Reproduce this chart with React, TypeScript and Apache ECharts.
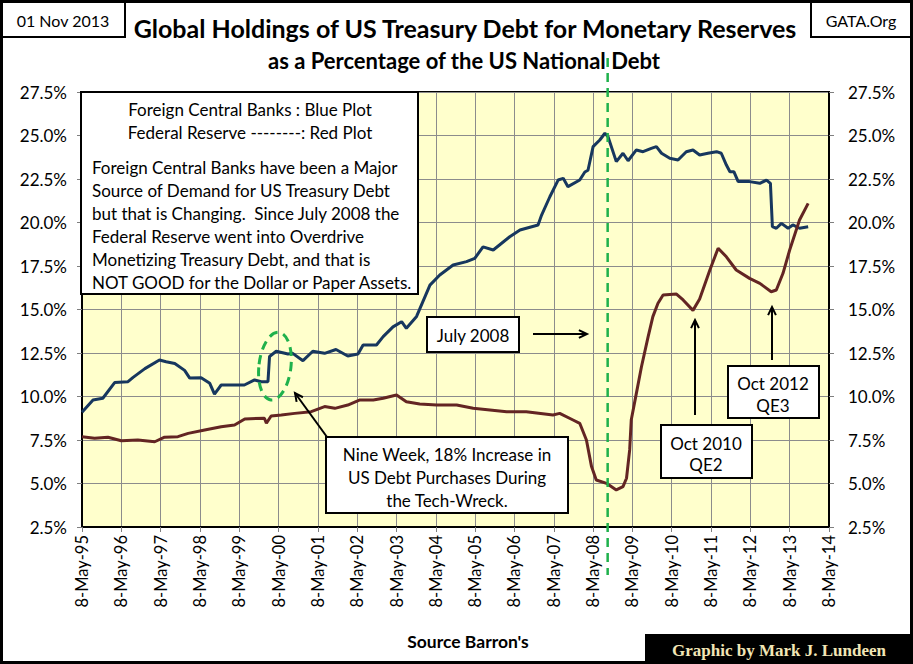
import { useEffect, useRef } from "react";
import * as echarts from "echarts";

const FONT = "Lato, 'Open Sans', sans-serif";
const INK = "#000000";
const BLUE = "#17375e";
const RED = "#632523";
const GREEN = "#1fb14c";
const PLOT_BG = "#ffffcc";
const GRID_LINE = "#8c8c8c";

// x positions are decimal years; ticks fall on 8 May of each year
const BASE_YEAR = 1995.35;
const X_TICK_LABELS = [
  "8-May-95", "8-May-96", "8-May-97", "8-May-98", "8-May-99", "8-May-00", "8-May-01",
  "8-May-02", "8-May-03", "8-May-04", "8-May-05", "8-May-06", "8-May-07", "8-May-08",
  "8-May-09", "8-May-10", "8-May-11", "8-May-12", "8-May-13", "8-May-14",
];

// Foreign central banks (blue plot)
const BLUE_YEARS = [
  1995.35, 1995.63, 1995.88, 1996.18, 1996.52, 1996.65, 1996.95, 1997.32, 1997.49, 1997.71,
  1997.96, 1998.09, 1998.38, 1998.6, 1998.72, 1998.89, 1999.23, 1999.48, 1999.74, 1999.91,
  2000.08, 2000.12, 2000.29, 2000.59, 2000.71, 2000.97, 2001.22, 2001.52, 2001.81, 2002.11,
  2002.37, 2002.5, 2002.84, 2003.01, 2003.26, 2003.48, 2003.6, 2003.86, 2004.2, 2004.45,
  2004.79, 2005.13, 2005.34, 2005.55, 2005.81, 2006.23, 2006.49, 2006.95, 2007.04, 2007.25,
  2007.46, 2007.59, 2007.71, 2008.01, 2008.14, 2008.22, 2008.35, 2008.52, 2008.65, 2008.73,
  2008.94, 2009.11, 2009.24, 2009.45, 2009.62, 2009.83, 2009.96, 2010.09, 2010.3, 2010.51,
  2010.72, 2010.89, 2011.06, 2011.27, 2011.49, 2011.61, 2011.74, 2011.83, 2011.93, 2012.04,
  2012.33, 2012.59, 2012.76, 2012.86, 2012.91, 2013.01, 2013.14, 2013.31, 2013.43, 2013.6,
  2013.82,
];
const BLUE_PCT = [
  9.1, 9.8, 9.9, 10.8, 10.85, 11.1, 11.6, 12.1, 12.0, 11.9,
  11.5, 11.06, 11.08, 10.76, 10.14, 10.66, 10.66, 10.66, 10.95, 10.85,
  10.85, 12.3, 12.6, 12.44, 12.48, 12.06, 12.6, 12.48, 12.7, 12.33,
  12.44, 12.96, 12.96, 13.44, 14.0, 14.3, 13.92, 14.6, 16.4, 16.98,
  17.56, 17.75, 17.94, 18.6, 18.42, 19.18, 19.57, 19.86, 20.43, 21.48,
  22.44, 22.54, 22.06, 22.44, 22.9, 23.0, 24.36, 24.74, 25.13, 24.93,
  23.5, 23.98, 23.55, 24.17, 24.07, 24.26, 24.36, 23.98, 23.69, 23.59,
  24.07, 24.17, 23.88, 23.98, 24.07, 23.98, 23.3, 22.92, 22.92, 22.35,
  22.35, 22.25, 22.44, 22.25, 19.76, 19.67, 19.95, 19.67, 19.86, 19.67,
  19.76,
];

// Federal Reserve (red plot)
const RED_YEARS = [
  1995.35, 1995.67, 1996.01, 1996.35, 1996.77, 1997.2, 1997.45, 1997.79, 1998.05, 1998.47,
  1998.89, 1999.23, 1999.49, 1999.99, 2000.04, 2000.16, 2000.42, 2000.76, 2001.18, 2001.52,
  2001.78, 2002.11, 2002.42, 2002.76, 2003.01, 2003.35, 2003.6, 2003.94, 2004.37, 2004.88,
  2005.3, 2006.15, 2006.65, 2007.33, 2007.5, 2007.84, 2008.01, 2008.18, 2008.31, 2008.43,
  2008.69, 2008.94, 2009.11, 2009.2, 2009.28, 2009.32, 2009.45, 2009.58, 2009.75, 2009.87,
  2010.0, 2010.13, 2010.47, 2010.64, 2010.89, 2011.06, 2011.32, 2011.53, 2011.74, 2011.99,
  2012.33, 2012.59, 2012.88, 2013.01, 2013.18, 2013.35, 2013.6, 2013.82,
];
const RED_PCT = [
  7.69, 7.6, 7.66, 7.46, 7.5, 7.4, 7.66, 7.69, 7.88, 8.07,
  8.26, 8.36, 8.71, 8.75, 8.46, 8.88, 8.94, 9.03, 9.13, 9.42,
  9.32, 9.51, 9.8, 9.8, 9.9, 10.09, 9.7, 9.57, 9.51, 9.51,
  9.32, 9.13, 9.13, 8.94, 9.03, 8.65, 8.46, 7.5, 5.97, 5.2,
  5.01, 4.63, 4.82, 5.3, 6.93, 8.65, 10.18, 11.71, 13.44, 14.59,
  15.36, 15.83, 15.89, 15.55, 14.95, 15.6, 17.27, 18.52, 18.03, 17.27,
  16.79, 16.5, 16.02, 16.12, 17.08, 18.42, 20.14, 21.1,
];

// position of the green dashed "July 2008" marker
const MARKER_YEAR = 2008.72;

const PARAGRAPH = [
  "Foreign Central Banks have been a Major",
  "Source of Demand for US Treasury Debt",
  "but that is Changing.  Since July 2008 the",
  "Federal Reserve went into Overdrive",
  "Monetizing Treasury Debt, and that is",
  "NOT GOOD for the Dollar or Paper Assets.",
];

const toPoints = (years: number[], vals: number[]) =>
  years.map((y, i) => [+(y - BASE_YEAR).toFixed(3), vals[i]]);

function box(x: number, y: number, w: number, h: number) {
  return {
    type: "rect",
    z: 100,
    shape: { x, y, width: w, height: h },
    style: { fill: "#ffffff", stroke: INK, lineWidth: 2 },
  };
}

function label(
  x: number,
  y: number,
  text: string,
  size = 17,
  align = "center",
  weight = "normal",
  family = FONT,
  fill = INK,
) {
  return {
    type: "text",
    z: 101,
    x,
    y,
    style: {
      text,
      fill,
      fontSize: size,
      fontWeight: weight,
      fontFamily: family,
      align,
      verticalAlign: "middle",
    },
  };
}

function arrow(x1: number, y1: number, x2: number, y2: number) {
  const a = Math.atan2(y2 - y1, x2 - x1);
  const L = 9;
  const s = 0.45;
  return [
    {
      type: "line",
      z: 101,
      shape: { x1, y1, x2, y2 },
      style: { stroke: INK, lineWidth: 2 },
    },
    {
      type: "polyline",
      z: 101,
      shape: {
        points: [
          [x2 - L * Math.cos(a - s), y2 - L * Math.sin(a - s)],
          [x2, y2],
          [x2 - L * Math.cos(a + s), y2 - L * Math.sin(a + s)],
        ],
      },
      style: { stroke: INK, lineWidth: 2, fill: "none" },
    },
  ];
}

function buildGraphics(markerX: number) {
  return [
    // frame and header boxes
    {
      type: "rect",
      z: 110,
      shape: { x: 1.5, y: 1.5, width: 910, height: 661 },
      style: { fill: "none", stroke: INK, lineWidth: 3 },
    },
    box(1.5, 1.5, 123.5, 35.5),
    label(63, 20, "01 Nov 2013", 16),
    box(811, 1.5, 100.5, 35.5),
    label(861, 20, "GATA.Org", 16),
    label(465, 28, "Global Holdings of US Treasury Debt for Monetary Reserves", 25, "center", "bold"),
    label(464, 60, "as a Percentage of the US National Debt", 22, "center", "bold"),
    label(468, 641, "Source Barron's", 17.5, "center", "bold"),
    {
      type: "rect",
      z: 100,
      shape: { x: 645, y: 634, width: 268, height: 30 },
      style: { fill: INK },
    },
    label(
      779,
      650,
      "Graphic by Mark J. Lundeen",
      17,
      "center",
      "bold",
      "'Liberation Serif', 'DejaVu Serif', serif",
      "#f2e6b6",
    ),

    // explanatory box
    box(81, 92, 337, 202),
    label(250, 109, "Foreign Central Banks : Blue Plot"),
    label(250, 132, "Federal Reserve --------: Red Plot"),
    ...PARAGRAPH.map((t, i) => label(92, 167 + i * 23, t, 17, "left")),

    // July 2008 marker
    {
      type: "line",
      z: 102,
      shape: { x1: markerX, y1: 58, x2: markerX, y2: 575 },
      style: { stroke: GREEN, lineWidth: 2.5, lineDash: [9, 6] },
    },
    box(427, 317, 92, 35),
    label(473, 335, "July 2008"),
    ...arrow(533, 334, 587, 334),

    // tech-wreck annotation
    {
      type: "ellipse",
      z: 102,
      shape: { cx: 275, cy: 366, rx: 16, ry: 34 },
      rotation: -0.12,
      originX: 275,
      originY: 366,
      style: { fill: "none", stroke: GREEN, lineWidth: 3, lineDash: [9, 6] },
    },
    box(326, 437, 242, 76),
    label(447, 454, "Nine Week, 18% Increase in"),
    label(447, 477, "US Debt Purchases During"),
    label(447, 500, "the Tech-Wreck."),
    ...arrow(327, 437, 295, 393),

    // QE annotations
    box(661, 425, 91, 53),
    label(706, 443, "Oct 2010"),
    label(706, 464, "QE2"),
    ...arrow(695, 415, 695, 320),
    box(728, 366, 91, 52),
    label(773, 383, "Oct 2012"),
    label(773, 405, "QE3"),
    ...arrow(772, 360, 772, 307),
  ];
}

const pctAxis = (position: "left" | "right", split: boolean, margin: number) => ({
  type: "value",
  position,
  min: 2.5,
  max: 27.5,
  interval: 2.5,
  axisLine: { show: true, lineStyle: { color: INK, width: 2 } },
  axisTick: { show: true, length: 5, lineStyle: { color: "#7f7f7f" } },
  axisLabel: {
    color: INK,
    fontFamily: FONT,
    fontSize: 17,
    margin,
    formatter: (v: number) => `${v.toFixed(1)}%`,
  },
  splitLine: { show: split, lineStyle: { color: GRID_LINE, width: 1 } },
});

export default function App() {
  const ref = useRef<HTMLDivElement>(null);

  useEffect(() => {
    const el = ref.current;
    if (!el) return;
    const chart = echarts.init(el, null, { renderer: "svg" });
    chart.setOption({
      animation: false,
      backgroundColor: "#ffffff",
      grid: {
        left: 82,
        right: 84,
        top: 92,
        bottom: 137,
        show: true,
        backgroundColor: PLOT_BG,
        borderColor: INK,
        borderWidth: 2,
      },
      xAxis: {
        type: "value",
        min: 0,
        max: X_TICK_LABELS.length - 1,
        interval: 1,
        axisLine: { show: true, lineStyle: { color: INK, width: 2 } },
        axisTick: { show: true, length: 5, lineStyle: { color: "#7f7f7f" } },
        axisLabel: {
          rotate: 90,
          color: INK,
          fontFamily: FONT,
          fontSize: 16.5,
          margin: 8,
          formatter: (v: number) => X_TICK_LABELS[Math.round(v)] ?? "",
        },
        splitLine: { show: true, lineStyle: { color: GRID_LINE, width: 1 } },
      },
      yAxis: [pctAxis("left", true, 15), pctAxis("right", false, 19)],
      series: [
        {
          name: "Foreign Central Banks",
          type: "line",
          data: toPoints(BLUE_YEARS, BLUE_PCT),
          showSymbol: false,
          lineStyle: { color: BLUE, width: 3 },
          z: 3,
        },
        {
          name: "Federal Reserve",
          type: "line",
          data: toPoints(RED_YEARS, RED_PCT),
          showSymbol: false,
          lineStyle: { color: RED, width: 3 },
          z: 4,
        },
      ],
    });
    const markerX = chart.convertToPixel({ xAxisIndex: 0 }, MARKER_YEAR - BASE_YEAR) as number;
    chart.setOption({ graphic: buildGraphics(markerX) });
    return () => chart.dispose();
  }, []);

  return (
    <div
      ref={ref}
      style={{ position: "absolute", left: 0, top: 0, width: 913, height: 664 }}
    />
  );
}
